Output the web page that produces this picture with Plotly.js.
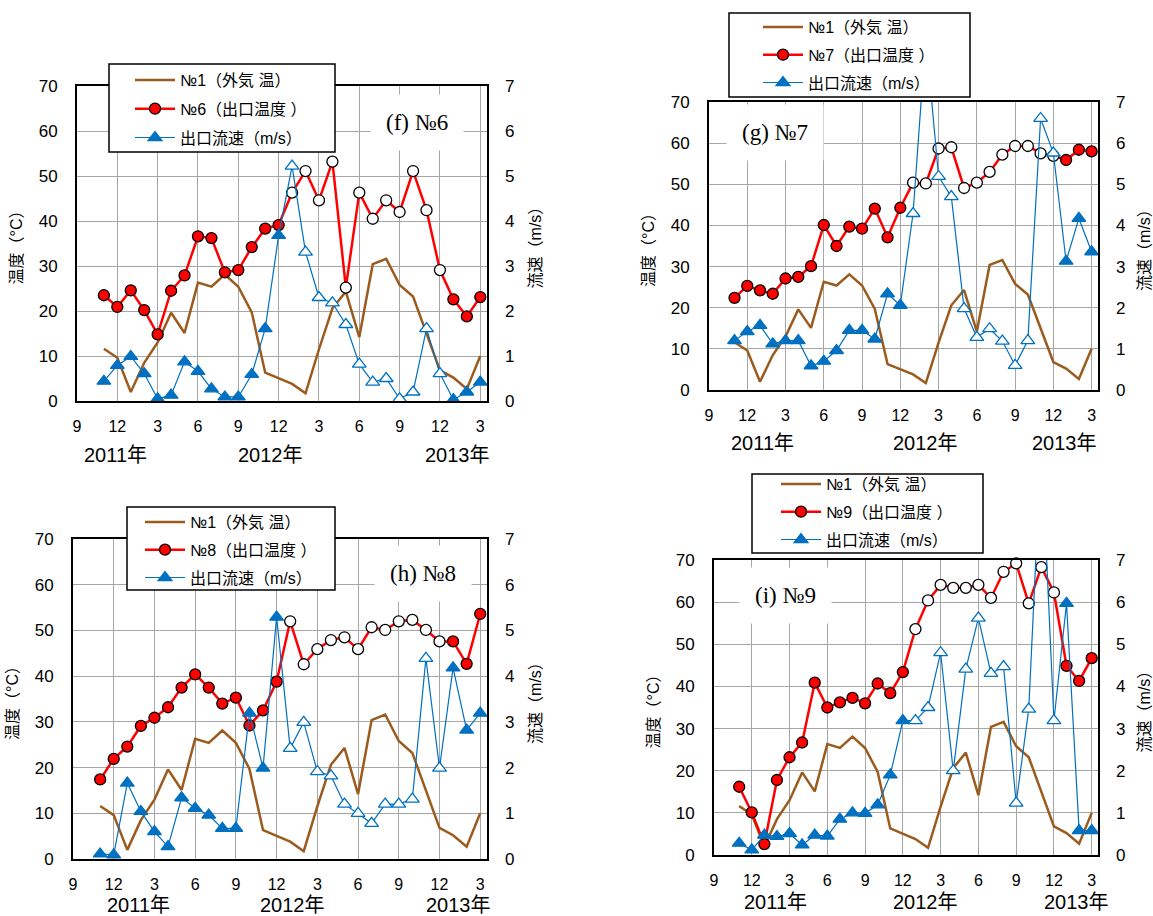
<!DOCTYPE html>
<html><head><meta charset="utf-8">
<script src="https://cdn.plot.ly/plotly-3.0.1.min.js"></script>
<style>html,body{margin:0;padding:0;background:#fff}</style>
</head><body><div id="chart" style="width:1153px;height:916px"></div>
<script>
// ---------------- data ----------------
const months = ['2010-11','2010-12',
  '2011-01','2011-02','2011-03','2011-04','2011-05','2011-06','2011-07','2011-08','2011-09','2011-10','2011-11','2011-12',
  '2012-01','2012-02','2012-03','2012-04','2012-05','2012-06','2012-07','2012-08','2012-09','2012-10','2012-11','2012-12',
  '2013-01','2013-02','2013-03'];
const openFrom = '2012-01', openTo = '2012-12';   // hollow markers in this period

const outsideTemp = [11.6,9.6,2.0,8.5,13.0,19.6,15.1,26.3,25.4,28.1,25.4,19.7,6.3,5.1,3.8,1.7,11.5,20.6,24.3,14.2,30.4,31.6,25.8,23.2,15.2,6.8,5.2,2.7,10.0];

const exitTempNo6 = [23.5,20.9,24.6,20.2,14.8,24.5,27.9,36.6,36.2,28.6,29.1,34.2,38.3,39.1,46.3,51.1,44.6,53.2,25.2,46.3,40.5,44.6,42.0,51.1,42.4,29.1,22.6,18.8,23.1];
const velocityNo6 = [0.44,0.79,0.99,0.61,0.05,0.13,0.87,0.66,0.27,0.09,0.09,0.59,1.61,3.68,5.22,3.31,2.30,2.18,1.70,0.82,0.42,0.50,0.05,0.20,1.61,0.61,0.03,0.20,0.42];

const exitTempNo7 = [22.4,25.3,24.2,23.4,27.1,27.5,30.1,40.1,35.0,39.7,39.2,44.1,37.1,44.3,50.4,50.2,58.7,59.0,49.1,50.4,53.0,57.2,59.3,59.3,57.5,56.9,55.9,58.4,58.0];
const velocityNo7 = [1.20,1.42,1.57,1.12,1.20,1.20,0.59,0.70,0.96,1.45,1.45,1.24,2.34,2.06,4.29,8.6,5.19,4.70,1.98,1.28,1.49,1.19,0.60,1.20,6.60,5.76,3.13,4.17,3.36];

const exitTempNo8 = [17.4,21.9,24.6,29.1,30.9,33.2,37.5,40.4,37.5,34.0,35.3,29.2,32.5,38.8,52.0,42.6,45.9,47.9,48.5,45.9,50.7,50.1,52.0,52.3,50.1,47.6,47.6,42.7,53.6];
const velocityNo8 = [0.11,0.09,1.66,1.04,0.60,0.27,1.34,1.11,0.96,0.67,0.67,3.19,1.99,5.29,2.42,2.99,1.91,1.82,1.20,1.00,0.78,1.20,1.20,1.31,4.39,1.99,4.18,2.82,3.19];

const exitTempNo9 = [16.2,10.1,2.6,17.8,23.2,26.7,40.9,35.0,36.2,37.3,36.0,40.7,38.4,43.4,53.6,60.4,64.1,63.4,63.4,64.1,61.0,67.2,69.2,59.7,68.3,62.3,44.9,41.3,46.7];
const velocityNo9 = [0.28,0.12,0.47,0.44,0.51,0.24,0.47,0.45,0.85,1.00,0.99,1.19,1.90,3.19,3.19,3.50,4.80,2.00,4.41,5.62,4.31,4.47,1.23,3.46,9.8,3.19,5.97,0.58,0.58];

const xTickLabels = ['9','12','3','6','9','12','3','6','9','12','3'];
const yearLabels = ['2011年','2012年','2013年'];

const outsideName = '№1（外気 温）';
const velocityName = '出口流速（m/s）';
const leftTitle = '温度（°C）';
const rightTitle = '流速（m/s）';

// ---------------- layout helpers ----------------
const W = 1153, H = 916;
const px = x => x / W;
const py = y => 1 - y / H;
const FONT = '"Liberation Sans", Arial, "Noto Sans CJK JP", sans-serif';
const SERIF = '"Liberation Serif", "Times New Roman", serif';
const BROWN = '#9C5B1E', RED = '#FF0000', BLUE = '#0070C0', GRID = '#A6A6A6';

// month index from Sep 2010
const monthIndex = s => (parseInt(s.slice(0,4)) - 2010) * 12 + (parseInt(s.slice(5,7)) - 9);
const xs = months.map(monthIndex);
const hollow = months.map(m => m >= openFrom && m <= openTo);
const tickVals = xTickLabels.map((_, i) => i * 3);

const panels = [
  {no:'№6', label:'(f) №6', temp:exitTempNo6, vel:velocityNo6,
   box:{l:77,r:487,t:86,b:401}, lbox:{l:109,r:335,t:64,b:152}, lpos:{x:130,y:63}, gap:5,
   lab:{x:417,y:122}, yearX:[2.9,14.4,28.3], yearY:455},
  {no:'№7', label:'(g) №7', temp:exitTempNo7, vel:velocityNo7,
   box:{l:709,r:1098,t:102,b:390}, lbox:{l:729,r:970,t:13,b:97}, lpos:{x:758,y:10}, gap:4,
   lab:{x:775,y:133}, yearX:[4.2,17.0,27.9], yearY:443},
  {no:'№8', label:'(h) №8', temp:exitTempNo8, vel:velocityNo8,
   box:{l:73,r:487,t:539,b:859}, lbox:{l:127,r:335,t:507,b:590}, lpos:{x:140,y:505}, gap:4,
   lab:{x:423,y:573}, yearX:[4.8,16.2,28.4], yearY:905},
  {no:'№9', label:'(i) №9', temp:exitTempNo9, vel:velocityNo9,
   box:{l:714,r:1098,t:560,b:855}, lbox:{l:752,r:983,t:474,b:553}, lpos:{x:776,y:467}, gap:4,
   lab:{x:785,y:595}, yearX:[4.9,16.8,28.8], yearY:902}
];

const data = [];
const layout = {
  width: W, height: H, margin:{l:0,r:0,t:0,b:0},
  paper_bgcolor:'#fff', plot_bgcolor:'#fff',
  font:{family:FONT, color:'#000'},
  showlegend:true, shapes:[], annotations:[]
};

panels.forEach((p, i) => {
  const k = i + 1;
  const xa = 'x' + (k === 1 ? '' : k);
  const yl = 'y' + (2*k-1 === 1 ? '' : 2*k-1);
  const yr = 'y' + (2*k);
  const leg = k === 1 ? 'legend' : 'legend' + k;

  data.push({x: xs, y: outsideTemp, xaxis: xa, yaxis: yl, type:'scatter', mode:'lines',
    line:{color:BROWN, width:2.5}, name: outsideName, legend: leg, legendgroup:'o'+k});
  data.push({x: xs, y: p.temp, xaxis: xa, yaxis: yl, type:'scatter', mode:'lines+markers',
    line:{color:RED, width:2.5}, cliponaxis:false,
    marker:{symbol:'circle', size:11, color: hollow.map(h => h ? '#FFFFFF' : RED), line:{color:'#000', width:1.3}},
    name: p.no + '（出口温度 ）', legend: leg, legendgroup:'t'+k});
  data.push({x: xs, y: p.vel, xaxis: xa, yaxis: yr, type:'scatter', mode:'lines+markers',
    line:{color:BLUE, width:1.2},
    marker:{symbol:'triangle-up', size:12, color: hollow.map(h => h ? '#FFFFFF' : BLUE), line:{color:BLUE, width:1.3}},
    name: velocityName, legend: leg, legendgroup:'v'+k});

  const xd = [px(p.box.l), px(p.box.r)];
  const yd = [py(p.box.b), py(p.box.t)];
  layout['xaxis' + (k === 1 ? '' : k)] = {
    domain: xd, anchor: yl, range:[0, 30.5], tickvals: tickVals, ticktext: xTickLabels,
    showgrid:true, gridcolor:GRID, gridwidth:1, zeroline:false,
    showline:true, linecolor:'#000', linewidth:2, mirror:true, ticks:'',
    tickfont:{size:16, family:FONT, color:'#000'}, ticklabelstandoff:10
  };
  layout['yaxis' + (2*k-1 === 1 ? '' : 2*k-1)] = {
    domain: yd, anchor: xa, range:[0, 70], tick0:0, dtick:10,
    showgrid:true, gridcolor:GRID, gridwidth:1, zeroline:false,
    showline:true, linecolor:'#000', linewidth:2, mirror:true, ticks:'',
    tickfont:{size:17, family:FONT, color:'#000'}, ticklabelstandoff:14,
    title:{text:leftTitle, font:{size:16, family:FONT, color:'#000'}, standoff:12}
  };
  layout['yaxis' + (2*k)] = {
    domain: yd, anchor: xa, overlaying: yl, side:'right', range:[0, 7], tick0:0, dtick:1,
    showgrid:false, zeroline:false, showline:false, ticks:'',
    tickfont:{size:17, family:FONT, color:'#000'}, ticklabelstandoff:17,
    title:{text:rightTitle, font:{size:16, family:FONT, color:'#000'}, standoff:16}
  };
  layout[leg] = {
    x: px(p.lpos.x), y: py(p.lpos.y), xanchor:'left', yanchor:'top',
    bgcolor:'rgba(0,0,0,0)', borderwidth:0, itemwidth:40, tracegroupgap:p.gap,
    traceorder:'grouped', font:{size:16, family:FONT, color:'#000'}
  };
  layout.shapes.push({type:'rect', xref:'paper', yref:'paper', layer:'above',
    x0: px(p.lbox.l), x1: px(p.lbox.r), y0: py(p.lbox.b), y1: py(p.lbox.t),
    line:{color:'#000', width:1.5}, fillcolor:'#FFFFFF'});
  layout.annotations.push({xref:'paper', yref:'paper', x: px(p.lab.x), y: py(p.lab.y),
    xanchor:'center', yanchor:'middle',
    text: p.label, showarrow:false, font:{family:SERIF, size:23, color:'#000'},
    bgcolor:'#FFFFFF', borderpad:15});
  yearLabels.forEach((t, j) => {
    layout.annotations.push({xref: xa, yref:'paper', x: p.yearX[j], y: py(p.yearY),
      xanchor:'center', yanchor:'middle',
      text: t, showarrow:false, font:{family:FONT, size:20, color:'#000'}});
  });
});

Plotly.newPlot('chart', data, layout, {displayModeBar:false, staticPlot:true});
</script>
</body></html>
